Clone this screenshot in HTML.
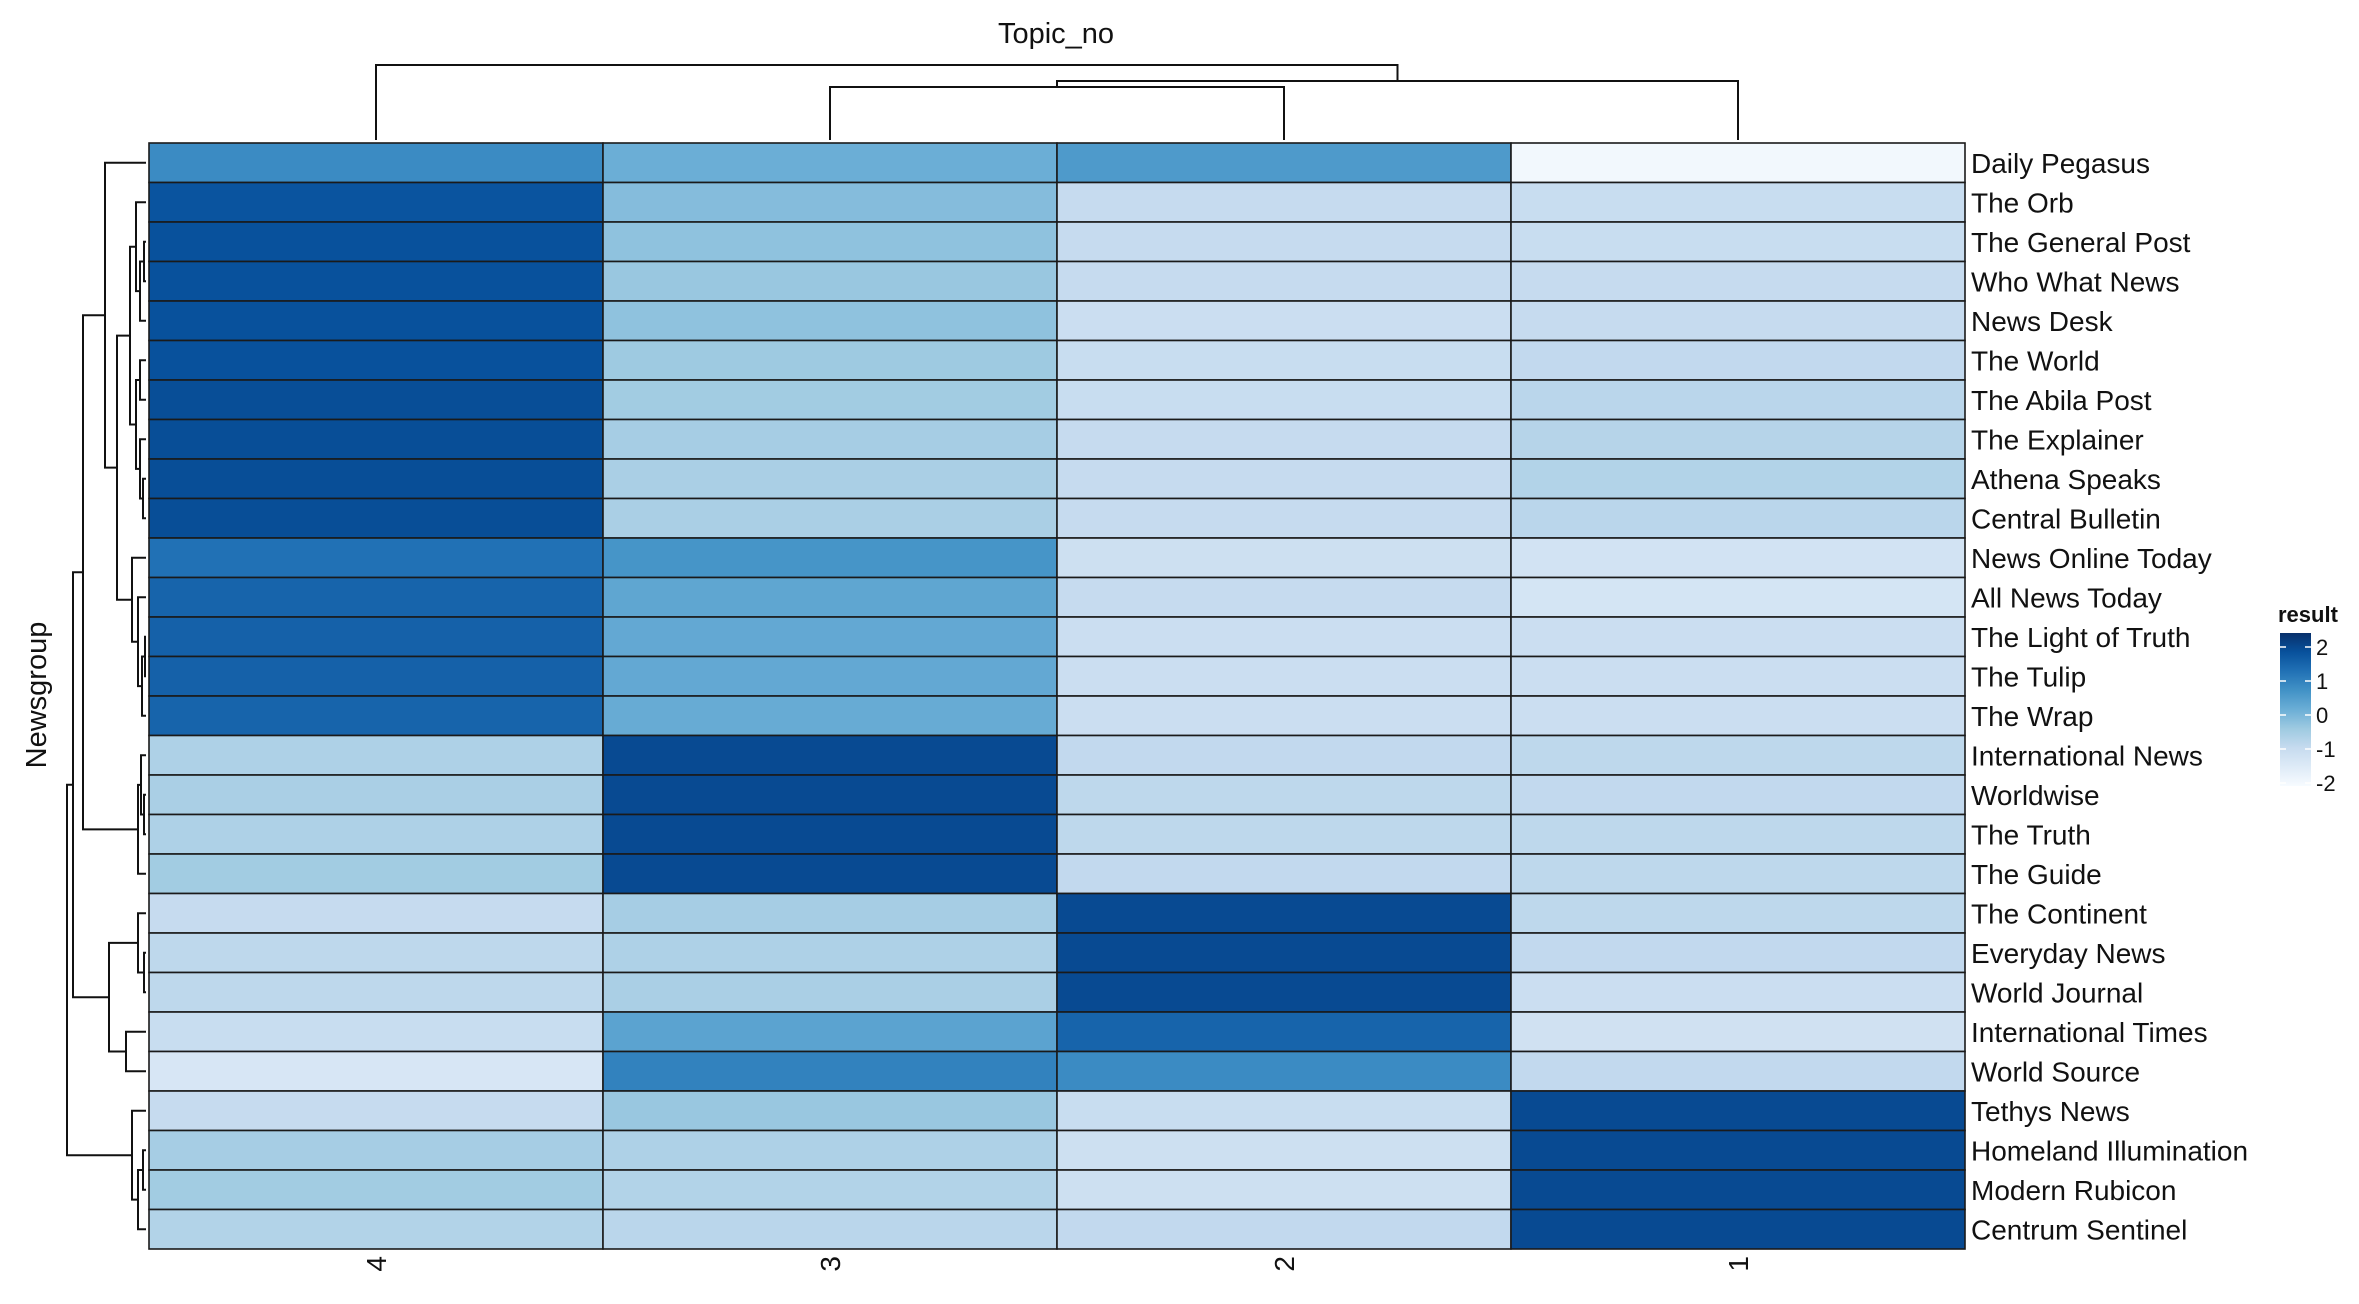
<!DOCTYPE html>
<html><head><meta charset="utf-8"><style>
html,body{margin:0;padding:0;background:#fff;}
svg text{font-family:"Liberation Sans",Arial,sans-serif;fill:#111;}
</style></head><body>
<svg id="chart" width="2359" height="1299" viewBox="0 0 2359 1299" xmlns="http://www.w3.org/2000/svg">
<text x="1056" y="43" font-size="29" text-anchor="middle">Topic_no</text>
<text transform="translate(46,695) rotate(-90)" font-size="29" text-anchor="middle">Newsgroup</text>
<g id="cells"></g>
<g id="rowlabels"></g>
<g id="collabels"></g>
<g id="rowdend"></g>
<g id="coldend"></g>
<g id="legend">
<text x="2278" y="622" font-size="22" font-weight="bold">result</text>
</g>
</svg>
<script>
const columns = ["4","3","2","1"];
const newsgroups = ["Daily Pegasus","The Orb","The General Post","Who What News","News Desk","The World","The Abila Post","The Explainer","Athena Speaks","Central Bulletin","News Online Today","All News Today","The Light of Truth","The Tulip","The Wrap","International News","Worldwise","The Truth","The Guide","The Continent","Everyday News","World Journal","International Times","World Source","Tethys News","Homeland Illumination","Modern Rubicon","Centrum Sentinel"];
const topic4 = [0.6,1.45,1.5,1.5,1.5,1.5,1.55,1.55,1.55,1.55,1.0,1.2,1.25,1.25,1.2,-0.7,-0.65,-0.7,-0.55,-1.0,-0.9,-0.9,-1.05,-1.35,-1.0,-0.6,-0.55,-0.75];
const topic3 = [0.0,-0.25,-0.35,-0.45,-0.35,-0.5,-0.55,-0.6,-0.65,-0.65,0.45,0.15,0.1,0.1,0.05,1.6,1.6,1.6,1.6,-0.6,-0.7,-0.65,0.2,0.75,-0.45,-0.7,-0.75,-0.85];
const topic2 = [0.35,-1.0,-1.0,-1.0,-1.1,-1.05,-1.05,-1.0,-1.0,-1.0,-1.15,-1.0,-1.1,-1.1,-1.1,-0.95,-0.9,-0.9,-0.95,1.6,1.6,1.6,1.2,0.6,-1.05,-1.15,-1.15,-0.95];
const topic1 = [-1.9,-1.05,-1.05,-1.0,-1.0,-0.95,-0.85,-0.8,-0.75,-0.85,-1.25,-1.3,-1.1,-1.1,-1.1,-0.9,-0.95,-0.9,-0.9,-0.9,-0.95,-1.1,-1.2,-0.95,1.6,1.6,1.6,1.6];
const legendTicks = [2,1,0,-1,-2];
// row dendrogram: [height, left, right] with leaf indices
const rowTree = [79,
  [73,
    [63,
      [41, 0,
        [29,
          [16,
            [10, 1, [6,[2,2,3],4]],
            [10, [6,5,6], [6,7,[3,8,9]]]
          ],
          [14, 10, [8, 11, [4,[1,12,13],14]]]
        ]
      ],
      [8, [5, 15, [2,16,17]], 18]
    ],
    [37, [8, 19, [2,20,21]], [20, 22, 23]]
  ],
  [14, 24, [8, [3,25,26], 27]]
];
const colTree = [75, 0, [59, [53, 1, 2], 3]];

const series = [topic4, topic3, topic2, topic1];
const L=149, R=1965, T=143, B=1249;
const nR = newsgroups.length, nC = columns.length;
const cw = (R-L)/nC, rh = (B-T)/nR;
const xCol = i => L + i*cw;
const yRow = r => T + r*rh;
const pal = ["#F7FBFF","#DEEBF7","#C6DBEF","#9ECAE1","#6BAED6","#4292C6","#2171B5","#08519C","#08306B"];
function hex(c){return [1,3,5].map(i=>parseInt(c.substr(i,2),16));}
function color(v){
  let t=(v+2)/4*(pal.length-1); t=Math.max(0,Math.min(pal.length-1.0001,t));
  const i=Math.floor(t), f=t-i, a=hex(pal[i]), b=hex(pal[i+1]);
  return "rgb("+a.map((x,k)=>Math.round(x+(b[k]-x)*f)).join(",")+")";
}
const NS="http://www.w3.org/2000/svg";
function mk(tag, attrs, parent){const e=document.createElementNS(NS,tag);for(const k in attrs)e.setAttribute(k,attrs[k]);parent.appendChild(e);return e;}
const cells=document.getElementById('cells');
for(let c=0;c<nC;c++){for(let r=0;r<nR;r++){
  const e=mk('rect',{x:xCol(c),y:yRow(r),width:cw,height:rh,fill:color(series[c][r]),stroke:"#1a1a1a","stroke-width":1.6},cells);
  
  
}}
const rl=document.getElementById('rowlabels');
newsgroups.forEach((n,r)=>{
  const e=mk('text',{x:1971,y:yRow(r)+rh/2+10,"font-size":28},rl);e.textContent=n;
  
  
});
const cl=document.getElementById('collabels');
columns.forEach((n,c)=>{
  const cx=xCol(c)+cw/2;
  const e=mk('text',{transform:"translate("+(cx+10)+",1256) rotate(-90)","font-size":28,"text-anchor":"end"},cl);e.textContent=n;
  
  
});
const rd=document.getElementById('rowdend');
const xh=h=>146-h;
function drawRow(n){
  if(typeof n==="number") return {y:yRow(n)+rh/2,h:0};
  const a=drawRow(n[1]), b=drawRow(n[2]), X=xh(n[0]);
  const p=mk('path',{d:`M${xh(a.h)},${a.y}H${X}V${b.y}H${xh(b.h)}`,fill:"none",stroke:"#111","stroke-width":2},rd);
  
  
  return {y:(a.y+b.y)/2,h:n[0]};
}
drawRow(rowTree);
const cd=document.getElementById('coldend');
const yh=h=>140-h;
function drawCol(n){
  if(typeof n==="number") return {x:xCol(n)+cw/2,h:0};
  const a=drawCol(n[1]), b=drawCol(n[2]), Y=yh(n[0]);
  const p=mk('path',{d:`M${a.x},${yh(a.h)}V${Y}H${b.x}V${yh(b.h)}`,fill:"none",stroke:"#111","stroke-width":2},cd);
  
  
  return {x:(a.x+b.x)/2,h:n[0]};
}
drawCol(colTree);
// legend
const lg=document.getElementById('legend');
const defs=mk('defs',{},lg);
const grad=mk('linearGradient',{id:"lgrad",x1:0,y1:1,x2:0,y2:0},defs);
pal.forEach((c,i)=>mk('stop',{offset:i/(pal.length-1),"stop-color":c},grad));
const LB0=633, LB1=786, lv=v=>783-(v+2)*34;
const bar=mk('rect',{x:2280,y:LB0,width:31,height:LB1-LB0,fill:"url(#lgrad)"},lg);


legendTicks.forEach(v=>{
  const y=lv(v);
  mk('line',{x1:2280,x2:2286,y1:y,y2:y,stroke:"#fff","stroke-width":1.5},lg);
  mk('line',{x1:2305,x2:2311,y1:y,y2:y,stroke:"#fff","stroke-width":1.5},lg);
  const t=mk('text',{x:2316,y:y+8,"font-size":22},lg);t.textContent=v;
  
  
});
</script>
</body></html>
